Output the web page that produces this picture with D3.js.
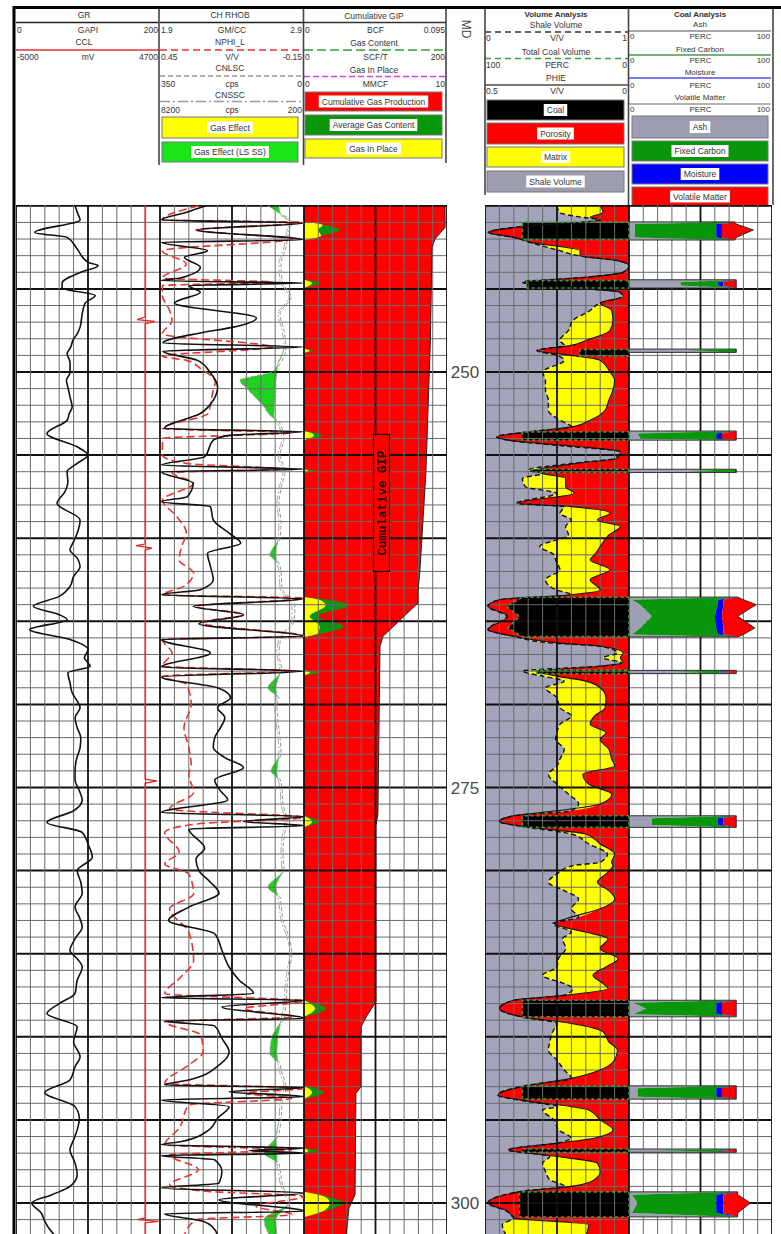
<!DOCTYPE html>
<html>
<head>
<meta charset="utf-8">
<script src="https://d3js.org/d3.v7.min.js"></script>
<style>
  body { margin: 0; background: #fff; }
  svg { display: block; font-family: "Liberation Sans", Arial, sans-serif; }
</style>
</head>
<body>
<div id="viz"></div>
<script>
/**********************/
/******* data         */
/**********************/

// [depth ft, GAPI]
const grLog = [
  [240.0, 82], [240.5, 86], [240.85, 89], [241.6, 26], [241.9, 71], [242.6, 85], [243.4, 100], [243.6, 114],
  [244.0, 90], [244.65, 64], [244.95, 64], [245.4, 110], [245.85, 96], [246.5, 92], [247.3, 89], [247.7, 85],
  [248.1, 79], [248.5, 76], [248.9, 71], [249.4, 75], [250.05, 75], [250.5, 70], [250.9, 72], [251.5, 75],
  [252.1, 78], [252.5, 74], [252.9, 71], [253.7, 43], [254.5, 85], [255.0, 100], [255.5, 85], [256.0, 71],
  [256.6, 72], [257.2, 68], [257.9, 57], [258.9, 89], [259.7, 85], [260.2, 80], [260.7, 75], [261.2, 85],
  [261.7, 89], [262.3, 80], [262.9, 75], [263.5, 60], [264.1, 24], [264.6, 60], [264.9, 71], [265.5, 19],
  [266.1, 75], [266.7, 100], [267.2, 95], [267.7, 103], [268.1, 72], [268.7, 75], [269.3, 78], [269.8, 85],
  [270.2, 89], [270.8, 82], [271.4, 85], [272.0, 90], [272.6, 89], [273.3, 84], [274.0, 82], [274.55, 82],
  [275.2, 88], [275.75, 92], [276.4, 80], [277.1, 43], [277.7, 92], [278.4, 100], [279.2, 106], [280.0, 85],
  [280.7, 90], [281.35, 92], [282.2, 82], [282.8, 88], [283.4, 92], [284.1, 82], [284.8, 75], [285.3, 85],
  [285.8, 92], [286.6, 85], [287.4, 82], [288.0, 60], [288.6, 43], [289.4, 85], [290.3, 80], [291.2, 89],
  [291.8, 82], [292.6, 75], [293.35, 40], [294.2, 82], [294.9, 88], [295.6, 85], [296.2, 80], [296.8, 75],
  [297.6, 82], [298.3, 85], [299.0, 75], [299.5, 50], [300.0, 22], [300.6, 35], [301.1, 40], [301.6, 47],
  [302.0, 55]
];

// [depth, mV]
const cclLog = [
  [240.0, 3690], [246.7, 3690], [246.85, 3150], [246.95, 4360], [247.1, 3690], [260.35, 3690],
  [260.45, 3080], [260.6, 4160], [260.7, 3690], [274.5, 3690], [274.6, 4500], [274.75, 3690],
  [300.9, 3690], [301.0, 3200], [301.1, 4600], [301.2, 3690], [302.0, 3690]
];

// [depth, GM/CC]
const rhobLog = [
  [240.0, 2.22], [240.4, 2.08], [240.85, 1.91], [241.03, 2.89], [241.45, 2.16], [242.05, 2.89], [242.2, 1.91],
  [242.7, 2.23], [243.1, 2.07], [243.7, 2.18], [244.35, 2.04], [244.5, 1.91], [244.65, 2.89], [244.8, 2.10],
  [245.2, 2.18], [245.85, 2.00], [246.75, 2.57], [247.3, 2.41], [247.65, 2.18], [248.25, 1.92], [248.5, 2.89],
  [248.75, 1.92], [249.3, 2.16], [250.05, 2.25], [250.9, 2.30], [251.7, 2.27], [252.5, 2.18], [253.4, 1.93],
  [253.6, 2.89], [253.8, 2.40], [254.1, 2.27], [255.1, 2.21], [255.6, 1.91], [255.85, 2.89], [256.0, 1.91],
  [256.7, 2.13], [257.5, 2.09], [257.8, 1.91], [258.1, 2.25], [258.9, 2.27], [259.7, 2.38], [260.3, 2.46],
  [260.9, 2.23], [261.7, 2.25], [262.5, 2.27], [263.1, 2.18], [263.4, 1.91], [263.65, 2.89], [264.1, 2.13],
  [264.6, 2.48], [265.15, 2.17], [265.9, 2.89], [266.1, 1.91], [266.9, 2.25], [267.75, 1.91], [268.0, 2.89],
  [268.35, 1.91], [269.0, 2.30], [269.6, 2.39], [270.2, 2.30], [270.8, 2.35], [271.4, 2.32], [272.0, 2.28],
  [272.6, 2.27], [273.2, 2.35], [273.8, 2.48], [274.55, 2.28], [275.2, 2.32], [275.75, 2.37], [276.5, 1.91],
  [276.75, 2.90], [277.05, 2.48], [277.3, 2.90], [277.5, 2.10], [278.65, 2.21], [279.3, 2.15], [280.0, 2.17],
  [280.7, 2.25], [281.35, 2.31], [282.2, 2.10], [283.0, 1.96], [283.8, 2.28], [284.8, 2.33], [285.8, 2.38],
  [286.6, 2.45], [287.4, 2.55], [287.65, 1.91], [287.8, 2.90], [288.2, 2.33], [288.9, 2.90], [289.05, 1.93],
  [289.35, 2.28], [290.1, 2.33], [290.9, 2.38], [291.7, 2.31], [292.6, 2.10], [292.9, 1.93], [293.05, 2.90],
  [293.3, 2.38], [293.6, 2.90], [293.8, 1.91], [294.2, 2.38], [294.9, 2.30], [295.6, 2.24], [296.3, 2.05],
  [296.5, 1.91], [296.7, 2.90], [296.85, 2.52], [297.0, 2.90], [297.15, 1.91], [297.4, 2.28], [298.1, 2.33],
  [298.8, 2.31], [299.1, 1.91], [299.4, 2.90], [299.8, 2.31], [300.5, 2.90], [300.65, 1.93], [301.1, 2.20],
  [301.6, 2.28], [302.0, 2.30]
];

// [depth, V/V]
const nphiLog = [
  [240.0, 0.29], [240.85, 0.44], [241.0, -0.15], [241.45, 0.30], [242.0, -0.10], [242.7, 0.44], [243.5, 0.34],
  [244.35, 0.44], [244.6, -0.02], [244.8, 0.44], [245.4, 0.44], [246.3, 0.41], [246.9, 0.40], [247.7, 0.44],
  [248.5, -0.02], [249.05, 0.44], [249.3, 0.34], [249.8, 0.28], [250.6, 0.22], [251.2, 0.23], [252.5, 0.25],
  [253.4, 0.44], [253.65, -0.10], [254.0, 0.44], [255.0, 0.44], [255.5, 0.34], [255.85, -0.05], [256.05, 0.40],
  [256.7, 0.31], [257.7, 0.44], [258.7, 0.38], [259.7, 0.34], [260.5, 0.36], [261.3, 0.37], [262.1, 0.31],
  [262.9, 0.35], [263.4, 0.44], [263.6, -0.15], [264.1, 0.30], [264.6, 0.10], [265.1, 0.28], [265.9, -0.15],
  [266.1, 0.44], [266.9, 0.40], [267.7, 0.44], [268.0, -0.10], [268.3, 0.44], [268.8, 0.34], [270.0, 0.32],
  [271.4, 0.35], [272.6, 0.33], [273.7, 0.32], [274.2, 0.33], [275.3, 0.31], [276.3, 0.41], [276.8, -0.15],
  [277.2, 0.30], [277.7, 0.43], [278.9, 0.37], [279.6, 0.43], [280.2, 0.33], [281.4, 0.31], [282.3, 0.41],
  [283.7, 0.33], [285.4, 0.31], [286.5, 0.37], [287.4, 0.43], [287.85, -0.15], [288.3, 0.10], [288.8, -0.10],
  [289.1, 0.43], [289.9, 0.28], [290.9, 0.27], [291.7, 0.33], [292.8, 0.43], [293.1, -0.15], [293.4, 0.10],
  [293.7, -0.10], [294.1, 0.33], [295.5, 0.37], [296.5, 0.43], [296.8, -0.10], [297.1, 0.41], [298.0, 0.29],
  [298.9, 0.41], [299.3, 0.25], [299.6, -0.15], [300.2, 0.05], [300.7, -0.10], [301.0, 0.30], [302.0, 0.35]
];

// [depth, CNLSC cps, CNSSC cps]
const neutronLog = [
  [240.0, 87.5, 1589], [240.5, 53.5, 1533], [241.0, 29.2, 978], [241.5, 36.5, 1144], [242.5, 43.7, 1311],
  [243.5, 55.9, 1589], [244.5, 53.5, 1533], [245.5, 31.6, 1033], [246.5, 58.3, 1644], [247.5, 48.6, 1422],
  [248.5, 43.7, 1311], [249.5, 58.3, 1644], [250.0, 77.8, 1700], [250.5, 155.6, 1755], [251.0, 138.5, 1755],
  [251.5, 119.1, 1811], [252.0, 99.7, 1811], [252.6, 82.6, 1867], [253.0, 60.8, 1700], [254.0, 48.6, 1422],
  [255.0, 58.3, 1644], [256.0, 46.2, 1366], [257.0, 55.9, 1589], [258.0, 60.8, 1700], [259.0, 55.9, 1589],
  [260.0, 58.3, 1644], [261.0, 82.6, 1755], [261.5, 60.8, 1700], [262.0, 55.9, 1589], [263.0, 53.5, 1533],
  [264.0, 21.9, 867], [265.0, 24.3, 867], [266.0, 55.9, 1589], [267.0, 60.8, 1700], [268.0, 53.5, 1533],
  [269.0, 87.5, 1755], [269.6, 60.8, 1700], [270.0, 65.6, 1811], [271.0, 63.2, 1755], [272.0, 58.3, 1644],
  [273.0, 55.9, 1589], [274.0, 80.2, 1700], [274.5, 58.3, 1644], [275.0, 53.5, 1533], [276.0, 51.0, 1478],
  [277.0, 41.3, 1255], [278.0, 48.6, 1422], [279.0, 51.0, 1478], [280.0, 48.6, 1422], [281.0, 87.5, 1755],
  [281.6, 58.3, 1644], [282.0, 55.9, 1589], [283.0, 51.0, 1478], [284.0, 36.5, 1144], [285.0, 29.2, 978],
  [286.0, 36.5, 1144], [287.0, 41.3, 1255], [288.0, 43.7, 1311], [289.0, 51.0, 1478], [290.0, 77.8, 1644],
  [291.0, 82.6, 1700], [291.6, 58.3, 1644], [292.0, 55.9, 1589], [293.0, 43.7, 1311], [294.0, 53.5, 1533],
  [295.0, 55.9, 1589], [296.0, 63.2, 1755], [297.0, 97.2, 1700], [297.6, 60.8, 1700], [298.0, 58.3, 1644],
  [299.0, 51.0, 1478], [300.0, 34.0, 1089], [301.0, 97.2, 1755], [302.0, 82.6, 1700]
];

// [depth, BCF]
const cumGipLog = [
  [240.0, 0.0937], [241.3, 0.0937], [242.0, 0.0870], [242.5, 0.0850], [248.0, 0.0840], [252.0, 0.0825],
  [256.0, 0.0810], [262.0, 0.0770], [263.2, 0.0757], [263.9, 0.0757], [265.9, 0.0525], [266.5, 0.0505],
  [276.6, 0.0491], [277.3, 0.0478], [287.9, 0.0478], [288.7, 0.0420], [289.4, 0.0379], [293.0, 0.0379],
  [293.4, 0.0345], [299.5, 0.0339], [300.3, 0.0299], [302.0, 0.0279]
];

// [bed, depth, gas in place MMCF, gas content SCF/T]
const gasLog = [
  [1, 240.97, 0, 0], [1, 241.15, 1.3, 28], [1, 241.45, 1.0, 50], [1, 241.8, 1.2, 25], [1, 242.06, 0, 0],
  [2, 244.45, 0, 0], [2, 244.65, 0.56, 22], [2, 244.95, 0, 0],
  [3, 248.6, 0, 0], [3, 248.72, 0.4, 13], [3, 248.85, 0, 0],
  [4, 253.55, 0, 0], [4, 253.8, 0.7, 25], [4, 254.1, 0, 0],
  [5, 255.85, 0, 0], [5, 255.95, 0.3, 15], [5, 256.05, 0, 0],
  [6, 263.54, 0, 0], [6, 263.75, 1.2, 40], [6, 264.05, 1.5, 62], [6, 264.7, 0.4, 18], [6, 265.3, 1.1, 55],
  [6, 265.7, 1.0, 30], [6, 265.94, 0, 0],
  [7, 267.95, 0, 0], [7, 268.1, 0.42, 20], [7, 268.25, 0, 0],
  [8, 276.7, 0, 0], [8, 277.05, 0.56, 20], [8, 277.4, 0, 0],
  [9, 287.8, 0, 0], [9, 288.3, 0.77, 31], [9, 288.8, 0, 0],
  [10, 292.95, 0, 0], [10, 293.35, 0.56, 28], [10, 293.75, 0, 0],
  [11, 296.7, 0, 0], [11, 296.85, 0.3, 21], [11, 297.0, 0, 0],
  [12, 299.33, 0, 0], [12, 299.7, 1.6, 40], [12, 300.0, 1.8, 56], [12, 300.4, 1.5, 35], [12, 300.84, 0, 0]
];

// [depth, shale volume V/V, PHIE V/V]
const volumeLog = [
  [240.0, .50, .10], [240.4, .52, .09], [240.7, .68, .135], [240.85, .80, .10], [241.2, .30, .34], [241.6, .03, .49],
  [241.9, .20, .40], [242.2, .31, .34], [242.7, .52, .17], [243.0, .65, .17], [243.3, .92, .04], [243.6, 1.0, 0],
  [244.0, .96, .02], [244.3, .70, .15], [244.6, .26, .37], [244.8, .40, .30], [245.2, .94, .03], [245.45, .95, .02],
  [245.85, .80, .10], [246.3, .73, .06], [246.9, .61, .056], [247.5, .58, .066], [248.1, .52, .15], [248.4, .55, .20],
  [248.7, .36, .32], [249.0, .50, .20], [249.3, .55, .10], [250.0, .40, .066], [250.5, .42, .05], [251.1, .42, .056],
  [251.7, .44, .07], [252.3, .44, .083], [252.9, .52, .135], [253.3, .60, .20], [253.6, .30, .34], [253.9, .08, .46],
  [254.15, .20, .40], [254.45, .55, .20], [254.8, .94, .03], [255.2, .90, .04], [255.5, .60, .18], [255.9, .30, .32],
  [256.1, .40, .30], [256.4, .26, .22], [256.9, .28, .22], [257.3, .50, .19], [257.9, .22, .39], [258.1, .55, .20],
  [258.5, .52, .066], [258.9, .60, .11], [259.3, .56, .03], [259.8, .58, .07], [260.5, .38, .10], [261.0, .48, .12],
  [261.3, .49, .135], [261.9, .52, .066], [262.5, .42, .135], [263.1, .49, .10], [263.4, .60, .20], [263.7, .10, .45],
  [264.1, .02, .49], [264.7, .15, .42], [265.5, .02, .49], [265.9, .20, .40], [266.3, .45, .25], [266.5, .80, .10],
  [266.9, .92, .02], [267.2, .82, .03], [267.5, .95, .02], [267.7, .80, .10], [268.0, .26, .32], [268.3, .40, .25],
  [268.6, .55, .15], [269.0, .42, .10], [269.6, .50, .08], [270.2, .52, .083], [270.7, .60, .12], [271.2, .52, .135],
  [271.7, .50, .08], [272.1, .49, .10], [272.7, .55, .07], [273.3, .52, .06], [273.7, .50, .05], [274.2, .44, .16],
  [274.8, .50, .14], [275.4, .58, .06], [276.0, .65, .10], [276.4, .60, .25], [276.7, .20, .40], [277.05, .10, .45],
  [277.4, .30, .34], [277.8, .60, .15], [278.4, .72, .10], [279.0, .85, .05], [279.5, .80, .06], [279.7, .61, .056],
  [280.2, .50, .08], [280.7, .44, .11], [281.2, .55, .07], [281.7, .65, .049], [282.3, .60, .10], [282.8, .65, .20],
  [283.2, .47, .26], [283.7, .60, .15], [284.1, .54, .073], [284.7, .56, .10], [285.3, .51, .038], [285.8, .50, .08],
  [286.3, .40, .125], [286.8, .55, .09], [287.1, .61, .073], [287.5, .55, .22], [287.8, .20, .40], [288.3, .10, .45],
  [288.8, .25, .37], [289.2, .50, .20], [289.7, .47, .09], [290.3, .45, .07], [290.8, .44, .04], [291.4, .50, .05],
  [292.0, .55, .10], [292.5, .60, .20], [292.9, .30, .34], [293.5, .09, .455], [293.9, .30, .34], [294.2, .50, .20],
  [294.4, .40, .14], [295.0, .48, .10], [295.6, .51, .056], [296.1, .60, .12], [296.4, .50, .25], [296.8, .16, .42],
  [297.2, .45, .25], [297.6, .40, .11], [298.1, .42, .10], [298.6, .45, .12], [299.0, .55, .20], [299.3, .25, .37],
  [300.0, .02, .49], [300.5, .15, .42], [300.9, .20, .40], [301.3, .12, .14], [302.0, .15, .15]
];

// [bed, depth, total coal volume PERC]
const coalVolumeLog = [
  [1, 240.98, 74], [1, 242.04, 74],
  [2, 244.5, 71], [2, 244.95, 71],
  [3, 248.65, 34], [3, 249.05, 34],
  [4, 253.6, 74], [4, 254.1, 74],
  [5, 255.85, 67], [5, 256.05, 67],
  [6, 263.55, 74], [6, 264.1, 85], [6, 264.7, 76], [6, 265.4, 84], [6, 265.92, 74],
  [7, 267.95, 64], [7, 268.15, 64],
  [8, 276.7, 74], [8, 277.4, 74],
  [9, 287.8, 74], [9, 288.8, 74],
  [10, 292.95, 74], [10, 293.75, 74],
  [11, 296.75, 74], [11, 296.95, 74],
  [12, 299.33, 76], [12, 300.84, 76]
];

// [bed, depth, ash, fixed carbon, moisture, volatile matter] cumulative PERC
const coalAnalysisLog = [
  [1, 240.97, 74, 74, 74, 74], [1, 241.1, 4, 61, 65, 75], [1, 241.45, 4, 61, 65, 87], [1, 241.9, 4, 61, 65, 75], [1, 242.06, 74, 74, 74, 74],
  [2, 244.45, 75, 75, 75, 75], [2, 244.6, 36, 62, 66, 75], [2, 244.8, 36, 62, 66, 75], [2, 244.95, 75, 75, 75, 75],
  [3, 248.62, 75, 75, 75, 75], [3, 248.72, 40, 74, 75, 75], [3, 248.82, 75, 75, 75, 75],
  [4, 253.55, 75, 75, 75, 75], [4, 253.7, 6, 61, 65, 75], [4, 254.0, 8, 61, 65, 75], [4, 254.1, 75, 75, 75, 75],
  [5, 255.85, 75, 75, 75, 75], [5, 255.95, 40, 74, 75, 75], [5, 256.05, 75, 75, 75, 75],
  [6, 263.54, 76, 76, 76, 76], [6, 263.7, 2, 62, 66, 80], [6, 264.0, 8, 62, 66, 89], [6, 264.7, 16, 60, 65, 76],
  [6, 265.4, 8, 61, 66, 88], [6, 265.8, 2, 62, 66, 80], [6, 265.94, 76, 76, 76, 76],
  [7, 267.95, 75, 75, 75, 75], [7, 268.05, 28, 62, 66, 75], [7, 268.15, 75, 75, 75, 75],
  [8, 276.7, 75, 75, 75, 75], [8, 276.85, 16, 62, 66, 75], [8, 277.25, 16, 62, 66, 75], [8, 277.4, 75, 75, 75, 75],
  [9, 287.8, 75, 75, 75, 75], [9, 287.95, 3, 61, 65, 75], [9, 288.3, 12, 61, 65, 75], [9, 288.65, 3, 61, 65, 75], [9, 288.8, 75, 75, 75, 75],
  [10, 292.95, 75, 75, 75, 75], [10, 293.1, 6, 61, 65, 75], [10, 293.6, 6, 61, 65, 75], [10, 293.75, 75, 75, 75, 75],
  [11, 296.75, 75, 75, 75, 75], [11, 296.85, 16, 61, 65, 75], [11, 296.95, 75, 75, 75, 75],
  [12, 299.33, 76, 76, 76, 76], [12, 299.5, 2, 61, 66, 76], [12, 300.0, 6, 61, 66, 85], [12, 300.6, 2, 61, 66, 76], [12, 300.84, 76, 76, 76, 76]
];

const mdTicks = [250, 275, 300];

/**********************/
/******* layout       */
/**********************/

const width = 781, height = 1234;
const bodyTop = 205;
const trk = {
  gr: [16, 160], rhob: [160, 304], gip: [304, 447], md: [447, 485], vol: [485, 629], coal: [629, 772]
};

const y = d3.scaleLinear().domain([250, 300]).range([372, 1203]);

const xGR = d3.scaleLinear().domain([0, 200]).range(trk.gr);
const xCCL = d3.scaleLinear().domain([-5000, 4700]).range(trk.gr);
const xRHOB = d3.scaleLinear().domain([1.9, 2.9]).range(trk.rhob);
const xNPHI = d3.scaleLinear().domain([0.45, -0.15]).range(trk.rhob);
const xCNL = d3.scaleLinear().domain([350, 0]).range(trk.rhob);
const xCNS = d3.scaleLinear().domain([8200, 200]).range(trk.rhob);
const xBCF = d3.scaleLinear().domain([0, 0.095]).range(trk.gip);
const xGC = d3.scaleLinear().domain([0, 200]).range(trk.gip);
const xGIPm = d3.scaleLinear().domain([0, 10]).range(trk.gip);
const xVsh = d3.scaleLinear().domain([0, 1]).range(trk.vol);
const xPhie = d3.scaleLinear().domain([0.5, 0]).range(trk.vol);
const xCoalV = d3.scaleLinear().domain([100, 0]).range(trk.vol);
const xPerc = d3.scaleLinear().domain([0, 100]).range(trk.coal);

const svg = d3.select("#viz").append("svg")
    .attr("width", width)
    .attr("height", height);

svg.append("rect").attr("width", width).attr("height", height).attr("fill", "#fff");

const defs = svg.append("defs");
Object.entries(trk).forEach(([k, r]) => {
  defs.append("clipPath").attr("id", "clip-" + k)
    .append("rect").attr("x", r[0]).attr("y", bodyTop).attr("width", r[1] - r[0]).attr("height", height - bodyTop);
});

/**********************/
/******* header       */
/**********************/

const head = svg.append("g").attr("class", "header");

function label(g, x, yy, txt, anchor = "middle", size = 8.5, weight = "normal") {
  return g.append("text")
    .attr("x", x).attr("y", yy)
    .attr("text-anchor", anchor)
    .attr("font-size", size)
    .attr("font-weight", weight)
    .attr("fill", "#333")
    .text(txt);
}

function scaleRow(g, r, yy, lo, unit, hi, size = 8.5) {
  label(g, r[0] + 1, yy, lo, "start", size);
  label(g, (r[0] + r[1]) / 2, yy, unit, "middle", size);
  label(g, r[1] - 2, yy, hi, "end", size);
}

function sample(g, r, yy, color, dash, w = 1.5) {
  g.append("line")
    .attr("x1", r[0]).attr("x2", r[1] - 1).attr("y1", yy).attr("y2", yy)
    .attr("stroke", color).attr("stroke-width", w)
    .attr("stroke-dasharray", dash || null);
}

function legendBox(g, x0, x1, y0, y1, fill, txt) {
  g.append("rect")
    .attr("x", x0).attr("y", y0).attr("width", x1 - x0).attr("height", y1 - y0)
    .attr("fill", fill).attr("stroke", "#777").attr("stroke-width", 1);
  const t = label(g, (x0 + x1) / 2, (y0 + y1) / 2 + 3.2, txt, "middle", 8.5);
  const w = t.node().getComputedTextLength();
  g.insert("rect", () => t.node())
    .attr("x", (x0 + x1) / 2 - w / 2 - 3).attr("y", (y0 + y1) / 2 - 6)
    .attr("width", w + 6).attr("height", 12)
    .attr("fill", "#fff");
}

// GR / CCL
label(head, 84, 18, "GR");
sample(head, trk.gr, 22.5, "#222", null, 1.4);
scaleRow(head, trk.gr, 33, "0", "GAPI", "200");
label(head, 84, 45, "CCL");
sample(head, trk.gr, 50, "#e53030", null, 1.4);
scaleRow(head, trk.gr, 60, "-5000", "mV", "4700");

// CH RHOB
label(head, 230, 18, "CH RHOB");
sample(head, trk.rhob, 22.5, "#222", null, 1.4);
scaleRow(head, trk.rhob, 33, "1.9", "GM/CC", "2.9");
label(head, 230, 45, "NPHI_L");
sample(head, trk.rhob, 50, "#e53030", "7,4", 1.5);
scaleRow(head, trk.rhob, 60, "0.45", "V/V", "-0.15");
label(head, 230, 71, "CNLSC");
sample(head, trk.rhob, 76, "#9a9a9a", "5,3", 1.4);
scaleRow(head, trk.rhob, 87, "350", "cps", "0");
label(head, 230, 98, "CNSSC");
sample(head, trk.rhob, 101.5, "#9a9a9a", "10,3,2,3", 1.4);
scaleRow(head, trk.rhob, 113, "8200", "cps", "200");
legendBox(head, 162, 298, 117, 138, "#ffff00", "Gas Effect");
legendBox(head, 162, 298, 142, 162, "#19e619", "Gas Effect (LS SS)");

// Cumulative GIP
label(head, 374, 19, "Cumulative GIP");
sample(head, trk.gip, 22.5, "#333", null, 1.4);
scaleRow(head, trk.gip, 33, "0", "BCF", "0.095");
label(head, 374, 46, "Gas Content");
sample(head, trk.gip, 50, "#2e9e2e", "9,4", 1.5);
scaleRow(head, trk.gip, 60, "0", "SCF/T", "200");
label(head, 374, 73, "Gas In Place");
sample(head, trk.gip, 76.5, "#e040e0", "6,3", 1.5);
scaleRow(head, trk.gip, 87, "0", "MMCF", "10");
legendBox(head, 305, 442, 92, 111, "#ff0000", "Cumulative Gas Production");
legendBox(head, 305, 442, 115, 135, "#0a960a", "Average Gas Content");
legendBox(head, 305, 442, 139, 158, "#ffff00", "Gas In Place");

// MD
head.append("text")
  .attr("transform", "translate(462,29) rotate(90)")
  .attr("text-anchor", "middle")
  .attr("font-size", 12)
  .attr("fill", "#444")
  .text("MD");

// Volume analysis
label(head, 556, 17, "Volume Analysis", "middle", 8, "bold");
label(head, 556, 28, "Shale Volume", "middle", 8.5);
sample(head, trk.vol, 32, "#333", "6,4", 1.5);
scaleRow(head, trk.vol, 41, "0", "V/V", "1");
label(head, 556, 55, "Total Coal Volume", "middle", 8.5);
sample(head, trk.vol, 58.5, "#3aa03a", "6,4", 1.5);
scaleRow(head, trk.vol, 68, "100", "PERC", "0");
label(head, 556, 81, "PHIE", "middle", 8.5);
sample(head, trk.vol, 85, "#777", null, 2.2);
scaleRow(head, trk.vol, 94, "0.5", "V/V", "0");
legendBox(head, 487, 624, 100, 120, "#000", "Coal");
legendBox(head, 487, 624, 123, 144, "#ff0000", "Porosity");
legendBox(head, 487, 624, 147, 167, "#ffff00", "Matrix");
legendBox(head, 487, 624, 171, 192, "#9d9db0", "Shale Volume");

// Coal analysis
label(head, 700, 17, "Coal Analysis", "middle", 8, "bold");
label(head, 700, 27, "Ash", "middle", 8);
sample(head, trk.coal, 31, "#888", null, 1.5);
scaleRow(head, trk.coal, 39, "0", "PERC", "100", 8);
label(head, 700, 52, "Fixed Carbon", "middle", 8);
sample(head, trk.coal, 55, "#4a9a4a", null, 1.5);
scaleRow(head, trk.coal, 63, "0", "PERC", "100", 8);
label(head, 700, 75, "Moisture", "middle", 8);
sample(head, trk.coal, 78, "#5050e0", null, 1.5);
scaleRow(head, trk.coal, 88, "0", "PERC", "100", 8);
label(head, 700, 100, "Volatile Matter", "middle", 8);
sample(head, trk.coal, 104, "#999", null, 1.5);
scaleRow(head, trk.coal, 112, "0", "PERC", "100", 8);
legendBox(head, 632, 768, 116, 138, "#9d9db0", "Ash");
legendBox(head, 632, 768, 141, 161, "#0a960a", "Fixed Carbon");
legendBox(head, 632, 768, 164, 184, "#0000ff", "Moisture");
legendBox(head, 632, 768, 187, 206, "#ff0000", "Volatile Matter");

// header frame
[[159, 165], [303.5, 165], [446, 163], [485, 195], [628.5, 205], [773, 205]].forEach(([x, y1]) => {
  head.append("line").attr("x1", x).attr("x2", x).attr("y1", 8).attr("y2", y1)
    .attr("stroke", "#444").attr("stroke-width", 1.6);
});

/**********************/
/******* body         */
/**********************/

const body = svg.append("g").attr("class", "body");

function grid(g, r) {
  const gg = g.append("g").attr("class", "grid");
  gg.selectAll("line.h")
    .data(d3.range(240, 303))
    .join("line")
    .attr("class", "h")
    .attr("x1", r[0]).attr("x2", r[1])
    .attr("y1", d => y(d)).attr("y2", d => y(d))
    .attr("stroke", d => d % 5 === 0 ? "#111" : "#6a6a6a")
    .attr("stroke-width", d => d % 5 === 0 ? 2 : 1);
  gg.selectAll("line.v")
    .data(d3.range(0, 11))
    .join("line")
    .attr("class", "v")
    .attr("x1", i => r[0] + i * (r[1] - r[0]) / 10)
    .attr("x2", i => r[0] + i * (r[1] - r[0]) / 10)
    .attr("y1", bodyTop).attr("y2", height)
    .attr("stroke", i => i % 5 === 0 ? "#111" : "#6a6a6a")
    .attr("stroke-width", i => i % 5 === 0 ? 1.8 : 1);
}

function trackGroup(k) {
  return body.append("g").attr("clip-path", `url(#clip-${k})`);
}

const lineOf = (xs, idx = 1) => d3.line()
  .x(d => xs(d[idx])).y(d => y(d[0]))
  .curve(d3.curveMonotoneY);

// ---- track 1: GR & CCL
const t1 = trackGroup("gr");
grid(t1, trk.gr);
t1.append("path").datum(cclLog)
  .attr("d", d3.line().x(d => xCCL(d[1])).y(d => y(d[0])))
  .attr("fill", "none").attr("stroke", "#e02828").attr("stroke-width", 1.2);
t1.append("path").datum(grLog)
  .attr("d", lineOf(xGR))
  .attr("fill", "none").attr("stroke", "#111").attr("stroke-width", 1.6);

// ---- track 2: RHOB, NPHI, neutron counts
const t2 = trackGroup("rhob");
t2.append("path").datum(neutronLog)
  .attr("d", d3.area()
    .y(d => y(d[0]))
    .x0(d => xCNS(d[2]))
    .x1(d => Math.min(xCNL(d[1]), xCNS(d[2])))
    .curve(d3.curveMonotoneY))
  .attr("fill", "#1ed21e");
grid(t2, trk.rhob);
t2.append("path").datum(neutronLog)
  .attr("d", lineOf(xCNL, 1))
  .attr("fill", "none").attr("stroke", "#999").attr("stroke-width", 1).attr("stroke-dasharray", "4,2");
t2.append("path").datum(neutronLog)
  .attr("d", lineOf(xCNS, 2))
  .attr("fill", "none").attr("stroke", "#aaa").attr("stroke-width", 1).attr("stroke-dasharray", "8,2,2,2");
t2.append("path").datum(nphiLog)
  .attr("d", lineOf(xNPHI))
  .attr("fill", "none").attr("stroke", "#e8352d").attr("stroke-width", 1.6).attr("stroke-dasharray", "8,4");
t2.append("path").datum(rhobLog)
  .attr("d", lineOf(xRHOB))
  .attr("fill", "none").attr("stroke", "#111").attr("stroke-width", 1.6);

// ---- track 3: cumulative GIP
const t3 = trackGroup("gip");
t3.append("path").datum(cumGipLog)
  .attr("d", d3.area().y(d => y(d[0])).x0(trk.gip[0]).x1(d => xBCF(d[1])))
  .attr("fill", "#ff0000");
d3.groups(gasLog, d => d[0]).forEach(([bed, rows]) => {
  t3.append("path").datum(rows)
    .attr("d", d3.area().y(d => y(d[1])).x0(trk.gip[0]).x1(d => xGC(d[3])).curve(d3.curveMonotoneY))
    .attr("fill", "#0a960a");
  t3.append("path").datum(rows)
    .attr("d", d3.area().y(d => y(d[1])).x0(trk.gip[0]).x1(d => xGIPm(d[2])).curve(d3.curveMonotoneY))
    .attr("fill", "#ffff00");
});
grid(t3, trk.gip);
t3.append("path").datum(cumGipLog)
  .attr("d", d3.line().x(d => xBCF(d[1])).y(d => y(d[0])))
  .attr("fill", "none").attr("stroke", "#222").attr("stroke-width", 1);

// curve name box
const tagY0 = y(254), tagY1 = y(262);
t3.append("rect")
  .attr("x", 373.5).attr("y", tagY0 - 4).attr("width", 16).attr("height", tagY1 - tagY0 + 4)
  .attr("fill", "#ff0000").attr("stroke", "#111").attr("stroke-width", 1.2);
t3.append("text")
  .attr("transform", `translate(386,${(tagY0 + tagY1) / 2 - 2}) rotate(-90)`)
  .attr("text-anchor", "middle")
  .attr("font-family", "Liberation Mono, monospace")
  .attr("font-size", 12.5)
  .attr("font-weight", "bold")
  .attr("fill", "#2a0505")
  .text("Cumulative GIP");

// ---- MD labels
body.append("g").selectAll("text")
  .data(mdTicks)
  .join("text")
  .attr("x", 465).attr("y", d => y(d) + 6)
  .attr("text-anchor", "middle")
  .attr("font-size", 17)
  .attr("fill", "#4a4a4a")
  .text(d => d);

// ---- track 5: volume analysis
const t5 = trackGroup("vol");
t5.append("path").datum(volumeLog)
  .attr("d", d3.area().y(d => y(d[0])).x0(d => xPhie(d[2])).x1(trk.vol[1]).curve(d3.curveMonotoneY))
  .attr("fill", "#ff0000");
t5.append("path").datum(volumeLog)
  .attr("d", d3.area().y(d => y(d[0]))
    .x0(d => xVsh(d[1]))
    .x1(d => Math.max(xVsh(d[1]), xPhie(d[2])))
    .curve(d3.curveMonotoneY))
  .attr("fill", "#ffff00");
t5.append("path").datum(volumeLog)
  .attr("d", d3.area().y(d => y(d[0])).x0(trk.vol[0]).x1(d => xVsh(d[1])).curve(d3.curveMonotoneY))
  .attr("fill", "#a3a3ba");
const coalBeds = d3.groups(coalVolumeLog, d => d[0]);
coalBeds.forEach(([bed, rows]) => {
  t5.append("path").datum(rows)
    .attr("d", d3.area().y(d => y(d[1])).x0(d => xCoalV(d[2])).x1(trk.vol[1]))
    .attr("fill", "#000");
});
grid(t5, trk.vol);
t5.append("path").datum(volumeLog)
  .attr("d", lineOf(xPhie, 2))
  .attr("fill", "none").attr("stroke", "#111").attr("stroke-width", 1.1);
t5.append("path").datum(volumeLog)
  .attr("d", lineOf(xVsh, 1))
  .attr("fill", "none").attr("stroke", "#111").attr("stroke-width", 1.4).attr("stroke-dasharray", "5,3");
coalBeds.forEach(([bed, rows]) => {
  t5.append("path").datum(rows)
    .attr("d", d3.area().y(d => y(d[1])).x0(d => xCoalV(d[2])).x1(trk.vol[1]))
    .attr("fill", "none").attr("stroke", "#3c9a3c").attr("stroke-width", 1.6).attr("stroke-dasharray", "3,3");
});

// ---- track 6: coal analysis
const t6 = trackGroup("coal");
grid(t6, trk.coal);
const coalLayers = [
  { from: null, to: 2, fill: "#a0a0b4" },
  { from: 2, to: 3, fill: "#0a960a" },
  { from: 3, to: 4, fill: "#0000ff" },
  { from: 4, to: 5, fill: "#ff0000" }
];
d3.groups(coalAnalysisLog, d => d[0]).forEach(([bed, rows]) => {
  coalLayers.forEach(l => {
    t6.append("path").datum(rows)
      .attr("d", d3.area().y(d => y(d[1]))
        .x0(d => l.from === null ? trk.coal[0] : xPerc(d[l.from]))
        .x1(d => xPerc(d[l.to])))
      .attr("fill", l.fill);
  });
  t6.append("path").datum(rows)
    .attr("d", d3.area().y(d => y(d[1])).x0(trk.coal[0]).x1(d => xPerc(d[5])))
    .attr("fill", "none").attr("stroke", "#222").attr("stroke-width", 0.9);
});

// ---- frame
svg.append("line").attr("x1", 13).attr("x2", width).attr("y1", 7.5).attr("y2", 7.5)
  .attr("stroke", "#000").attr("stroke-width", 3);
svg.append("line").attr("x1", 14).attr("x2", 14).attr("y1", 6).attr("y2", height)
  .attr("stroke", "#000").attr("stroke-width", 3);
</script>
</body>
</html>
